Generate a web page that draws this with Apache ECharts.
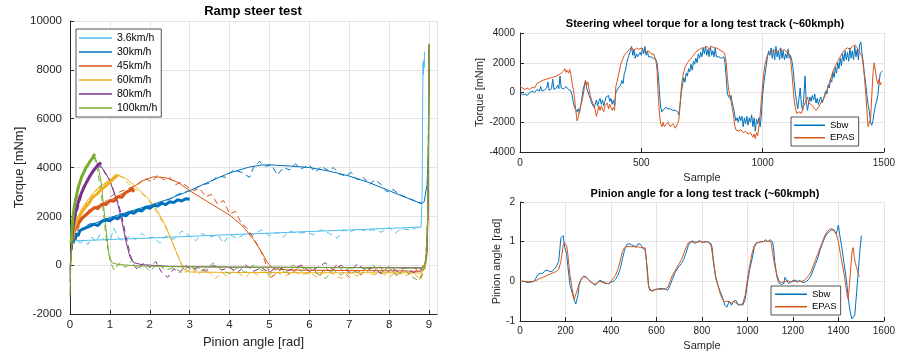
<!DOCTYPE html>
<html><head><meta charset="utf-8">
<script src="https://cdn.jsdelivr.net/npm/echarts@6/dist/echarts.min.js"></script>
<style>html,body{margin:0;padding:0;background:#fff}#c{width:898px;height:356px}</style>
</head><body><div id="c"></div>
<script>
// ---------- Left chart: Ramp steer test (pinion angle [rad], torque [mNm]) ----------
const speedNames = ['3.6km/h','30km/h','45km/h','60km/h','80km/h','100km/h'];
const leftXTicks = [0,1,2,3,4,5,6,7,8,9];
const leftYTicks = [-2000,0,2000,4000,6000,8000,10000];

// solid (model) curves
const s36 = [[0,-100],[0.02,300],[0.05,800],[0.1,1000],[0.5,1020],[1,1050],[2,1110],[3,1180],[4,1250],[5,1310],[6,1380],[7,1440],[8,1510],[8.8,1560],[8.83,3000],[8.84,6500],[8.85,8300],[8.86,7800],[8.87,8400],[8.88,8100],[8.89,8750]];
const s30 = [[0,-200],[0.02,300],[0.05,800],[0.1,1100],[0.3,1450],[0.6,1700],[1,1950],[1.5,2200],[2,2450],[2.5,2720],[3,3050],[3.5,3420],[4,3780],[4.5,4020],[4.8,4100],[5,4110],[5.5,4060],[6,4000],[6.5,3850],[7,3650],[7.5,3380],[8,3050],[8.5,2720],[8.8,2520],[8.88,2600],[8.95,3300],[8.99,5000],[9.0,8500]];
const s45 = [[0,-300],[0.02,200],[0.05,900],[0.1,1300],[0.3,1850],[0.6,2300],[1,2650],[1.5,3100],[1.8,3450],[2.1,3620],[2.4,3580],[2.7,3400],[3,3050],[3.3,2750],[3.6,2450],[4,2050],[4.3,1650],[4.6,1050],[4.8,550],[4.95,100],[5.1,-150],[5.5,-200],[6,-210],[7,-220],[8,-230],[8.8,-250],[8.9,-100],[8.95,500],[8.98,2500],[9.0,8800]];
const s60 = [[0,-400],[0.02,200],[0.05,1000],[0.1,1500],[0.3,2350],[0.6,3000],[0.9,3400],[1.2,3700],[1.4,3550],[1.7,3150],[2.0,2650],[2.2,2200],[2.4,1600],[2.6,800],[2.75,200],[2.85,-150],[3.0,-280],[4,-300],[5,-300],[6,-310],[7,-310],[8,-310],[8.8,-320],[8.9,-150],[8.95,400],[8.98,2500],[9.0,8900]];
const s80 = [[0,-700],[0.02,300],[0.05,1200],[0.1,1800],[0.3,3000],[0.5,3650],[0.7,4050],[0.8,4000],[0.9,3750],[1.0,3450],[1.1,3000],[1.2,2500],[1.3,1800],[1.4,1000],[1.5,350],[1.6,100],[1.8,20],[2.5,-50],[4,-80],[6,-90],[8,-100],[8.8,-110],[8.9,50],[8.95,600],[8.98,3000],[9.0,9000]];
const s100 = [[0,-1300],[0.02,200],[0.05,1500],[0.1,2300],[0.2,3200],[0.35,3900],[0.5,4300],[0.62,4450],[0.7,4100],[0.78,3400],[0.85,2300],[0.92,1200],[0.98,400],[1.05,100],[1.2,30],[1.6,-20],[2.5,-60],[4,-80],[6,-100],[8,-110],[8.8,-130],[8.9,50],[8.95,700],[8.98,3500],[9.0,9050]];

// dashed (noisy) curves
const d36 = [[0.05,900],[0.15,1100],[0.25,900],[0.35,1000],[0.45,850],[0.55,1150],[0.65,950],[0.75,1250],[0.85,1050],[1.0,1000],[1.1,1500],[1.2,1150],[1.35,950],[1.5,1200],[1.65,1050],[1.8,1300],[1.95,1100],[2.1,1150],[2.25,900],[2.4,1200],[2.6,1050],[2.8,1400],[3.0,1200],[3.15,1000],[3.3,1300],[3.5,1150],[3.7,1250],[3.85,900],[4.0,1250],[4.2,1100],[4.4,1300],[4.6,1250],[4.8,1450],[5.0,1200],[5.2,1350],[5.35,1150],[5.5,1400],[5.7,1300],[5.9,1350],[6.1,1250],[6.3,1450],[6.5,1300],[6.7,1100],[6.85,1450],[7.0,1350],[7.2,1500],[7.4,1400],[7.6,1450],[7.8,1350],[8.0,1550],[8.15,1300],[8.3,1500],[8.5,1450],[8.7,1550],[8.8,1550]];
const d30 = [[0.1,1000],[0.3,1500],[0.5,1700],[0.7,1650],[0.9,1900],[1.1,1950],[1.3,2000],[1.5,2250],[1.7,2150],[1.9,2450],[2.1,2400],[2.3,2600],[2.5,2700],[2.7,2900],[2.9,3000],[3.1,3100],[3.3,3300],[3.5,3350],[3.7,3650],[3.9,3600],[4.1,3900],[4.3,3800],[4.5,3600],[4.6,4000],[4.75,4250],[4.9,4050],[5.05,4100],[5.2,3700],[5.35,4000],[5.5,3900],[5.65,4150],[5.8,3950],[6.0,4100],[6.15,3800],[6.3,4050],[6.5,3850],[6.6,4000],[6.75,3750],[6.9,3650],[7.05,3800],[7.2,3500],[7.35,3600],[7.5,3300],[7.65,3500],[7.8,3300],[7.95,3000],[8.1,3100],[8.25,2900],[8.4,2800],[8.55,2700],[8.7,2600],[8.8,2550]];
const d45 = [[0.1,1000],[0.3,1900],[0.5,2300],[0.8,2500],[1.1,2900],[1.4,3100],[1.7,3300],[1.9,3550],[2.05,3400],[2.2,3700],[2.35,3500],[2.5,3600],[2.65,3300],[2.8,3400],[2.95,3200],[3.1,3050],[3.25,3150],[3.4,2800],[3.55,2900],[3.7,2500],[3.85,2650],[4.0,2100],[4.15,2200],[4.3,1700],[4.45,1500],[4.6,1100],[4.75,700],[4.85,300],[4.95,-100],[5.05,-500],[5.2,-300],[5.35,-100],[5.5,-400],[5.65,-200],[5.8,0],[5.95,-350],[6.1,-150],[6.25,-450],[6.4,-100],[6.55,-300],[6.7,50],[6.85,-250],[7.0,-500],[7.15,-200],[7.3,-400],[7.45,-100],[7.6,-300],[7.75,0],[7.9,-350],[8.05,-150],[8.2,-450],[8.35,-200],[8.5,-350],[8.65,-100],[8.8,-500],[8.92,200],[8.97,2000],[9.0,9100]];
const d60 = [[0.1,1200],[0.25,2000],[0.4,2500],[0.55,2800],[0.7,3150],[0.85,3300],[1.0,3450],[1.15,3750],[1.3,3600],[1.45,3350],[1.6,3150],[1.75,3000],[1.9,2800],[2.05,2500],[2.2,2100],[2.35,1700],[2.5,1200],[2.65,600],[2.8,0],[2.9,-300],[3.05,-100],[3.2,-400],[3.35,-200],[3.5,-300],[3.65,-550],[3.8,-300],[3.95,-450],[4.1,-200],[4.25,-350],[4.4,-500],[4.55,-250],[4.7,-400],[4.85,-200],[5.0,-500],[5.2,-300],[5.4,-450],[5.6,-250],[5.8,-400],[6.0,-300],[6.2,-500],[6.4,-250],[6.6,-350],[6.8,-550],[7.0,-300],[7.2,-450],[7.4,-200],[7.6,-400],[7.8,-300],[8.0,-500],[8.2,-250],[8.4,-450],[8.6,-300],[8.8,-600],[8.92,200],[8.97,2000],[9.0,9100]];
const d80 = [[0.05,600],[0.15,2000],[0.3,2900],[0.45,3500],[0.6,3900],[0.75,4150],[0.9,3700],[1.0,3500],[1.1,3000],[1.2,2600],[1.3,2000],[1.4,1200],[1.5,500],[1.6,0],[1.7,-200],[1.85,100],[2.0,-100],[2.15,150],[2.3,-300],[2.45,-500],[2.6,-150],[2.75,-300],[2.9,0],[3.05,-200],[3.2,-100],[3.4,-250],[3.6,0],[3.8,-200],[4.0,-100],[4.2,-300],[4.4,0],[4.6,-250],[4.8,-100],[5.0,-300],[5.2,-50],[5.4,-250],[5.6,-150],[5.8,0],[6.0,-250],[6.2,-100],[6.4,100],[6.6,-200],[6.8,0],[7.0,-300],[7.2,50],[7.4,-200],[7.6,-100],[7.8,-350],[8.0,-50],[8.2,-250],[8.4,-100],[8.6,-300],[8.8,-200],[8.92,200],[8.97,2000],[9.0,9100]];
const d100 = [[0.02,200],[0.1,2100],[0.2,3000],[0.3,3600],[0.4,4000],[0.5,4300],[0.6,4500],[0.7,3800],[0.8,2700],[0.9,1200],[1.0,200],[1.1,-200],[1.25,100],[1.4,-100],[1.55,200],[1.7,-100],[1.85,0],[2.0,-250],[2.2,50],[2.4,-200],[2.6,-100],[2.8,-300],[3.0,0],[3.2,-250],[3.4,-150],[3.6,100],[3.8,-200],[4.0,-350],[4.2,-100],[4.4,-300],[4.6,0],[4.8,-200],[5.0,-400],[5.2,-150],[5.4,-300],[5.6,0],[5.8,-250],[6.0,-100],[6.2,-350],[6.4,-550],[6.6,-200],[6.8,-400],[7.0,-100],[7.2,-300],[7.4,-150],[7.6,0],[7.8,-300],[8.0,-100],[8.2,-400],[8.4,-200],[8.6,-500],[8.75,-650],[8.85,-300],[8.92,200],[8.97,2000],[9.0,9100]];

// thick (measured) bands
const m30 = [[0.08,900],[0.1,1150],[0.13,1050],[0.16,1300],[0.2,1200],[0.25,1420],[0.3,1350],[0.35,1500],[0.4,1430],[0.5,1600],[0.55,1520],[0.6,1680],[0.7,1620],[0.8,1800],[0.85,1720],[0.9,1850],[1.0,1820],[1.1,1950],[1.2,1900],[1.3,2070],[1.4,2020],[1.5,2170],[1.6,2120],[1.7,2260],[1.8,2220],[1.9,2380],[2.0,2330],[2.1,2450],[2.2,2420],[2.3,2540],[2.4,2480],[2.5,2600],[2.6,2560],[2.7,2680],[2.8,2630],[2.9,2720],[3.0,2700]];
const m45 = [[0.07,1000],[0.1,1400],[0.13,1350],[0.17,1650],[0.2,1600],[0.25,1850],[0.3,1800],[0.35,2000],[0.4,1950],[0.5,2200],[0.55,2150],[0.6,2350],[0.7,2320],[0.8,2500],[0.9,2480],[1.0,2650],[1.1,2620],[1.2,2800],[1.3,2780],[1.4,2980],[1.5,3050],[1.55,3150],[1.6,3000]];
const m60 = [[0.07,1100],[0.1,1500],[0.13,1450],[0.17,1800],[0.2,1750],[0.25,2050],[0.3,2000],[0.35,2300],[0.4,2250],[0.5,2600],[0.55,2750],[0.6,2700],[0.7,2950],[0.75,3050],[0.8,3000],[0.9,3250],[1.0,3400],[1.05,3350],[1.1,3550],[1.15,3500],[1.2,3700]];
const m80 = [[0.05,1100],[0.08,1600],[0.1,1800],[0.13,2100],[0.17,2400],[0.2,2550],[0.25,2800],[0.3,3000],[0.35,3200],[0.4,3350],[0.45,3500],[0.5,3650],[0.55,3700],[0.6,3900],[0.65,3950],[0.7,4100],[0.75,4150],[0.78,4200]];
const m100 = [[0.03,900],[0.05,1500],[0.07,1900],[0.1,2300],[0.13,2600],[0.17,2900],[0.2,3150],[0.25,3400],[0.3,3650],[0.35,3800],[0.4,4000],[0.45,4100],[0.5,4250],[0.55,4350],[0.6,4500],[0.63,4550]];

// ---------- Right-top: steering wheel torque [mNm] vs sample ----------
const sbwTorque = [[0,0],[10,-150],[20,-100],[30,-200],[40,0],[50,100],[60,0],[70,200],[80,100],[85,400],[90,100],[100,150],[110,300],[115,700],[120,150],[130,250],[135,900],[140,200],[150,300],[155,500],[160,250],[165,1100],[170,300],[180,250],[190,400],[200,200],[210,100],[215,-200],[220,-700],[225,-1000],[230,-900],[235,-1300],[240,-1100],[245,-1400],[250,-900],[255,-400],[260,200],[265,500],[270,800],[275,300],[280,200],[285,-200],[290,-400],[295,-700],[300,-600],[305,-1000],[310,-800],[315,-500],[320,-900],[325,-600],[330,-400],[335,-800],[340,-500],[345,-900],[350,-600],[355,-300],[360,-400],[365,-200],[370,-600],[375,-400],[380,-800],[385,-500],[390,-900],[395,0],[400,100],[405,300],[410,200],[415,500],[420,800],[425,600],[430,1300],[435,1500],[440,2000],[445,2300],[450,2200],[455,2800],[460,3100],[465,2500],[470,2900],[475,2300],[480,2600],[485,2400],[490,2300],[495,2700],[500,2500],[505,3000],[510,2600],[515,3100],[520,2500],[525,2800],[530,2400],[540,2400],[550,2300],[560,2200],[565,2000],[570,1200],[575,0],[580,-1000],[585,-1300],[590,-1200],[600,-1000],[610,-1100],[620,-1100],[630,-1200],[640,-1200],[650,-1300],[655,-1500],[660,-800],[665,0],[670,500],[675,1000],[680,700],[685,1300],[690,1100],[695,1600],[700,1400],[705,1900],[710,1500],[715,2100],[720,1900],[725,2300],[730,2000],[735,2600],[740,2300],[745,2700],[750,2400],[755,3000],[760,2600],[765,3100],[770,2500],[775,2900],[780,2400],[785,3100],[790,2500],[795,2800],[800,2400],[805,3000],[810,2400],[820,2400],[830,2300],[840,2400],[845,2000],[850,1000],[855,-100],[860,0],[865,-400],[870,-200],[875,-700],[880,-1000],[885,-1500],[890,-1900],[895,-1700],[900,-2000],[905,-1600],[910,-1900],[915,-1600],[920,-2300],[925,-1700],[930,-2100],[935,-1600],[940,-2200],[945,-1700],[950,-2000],[955,-1500],[960,-2300],[965,-1700],[970,-2600],[975,-1800],[980,-2100],[985,-1700],[990,-2300],[995,-1500],[1000,-200],[1005,600],[1010,1200],[1015,1800],[1020,2400],[1025,2800],[1030,2500],[1035,3000],[1040,2300],[1045,2900],[1050,2200],[1055,3100],[1060,2400],[1065,2800],[1070,2200],[1075,3000],[1080,2300],[1085,2800],[1090,2200],[1095,2600],[1100,2300],[1105,2900],[1110,2300],[1115,2500],[1120,2200],[1125,1700],[1130,800],[1135,0],[1140,-600],[1145,-1100],[1150,-400],[1155,300],[1160,-800],[1165,-1200],[1170,-300],[1175,1100],[1180,-600],[1185,-1200],[1190,-700],[1195,-300],[1200,-600],[1205,-200],[1210,-500],[1215,-100],[1220,-700],[1225,-400],[1230,-800],[1235,-500],[1240,-300],[1245,-700],[1250,-500],[1255,-200],[1260,100],[1265,-100],[1270,500],[1275,300],[1280,900],[1285,700],[1290,1400],[1295,1000],[1300,1700],[1305,1300],[1310,2000],[1315,1600],[1320,2300],[1325,1800],[1330,2600],[1335,2100],[1340,2800],[1345,2200],[1350,2700],[1355,2100],[1360,3000],[1365,2300],[1370,2800],[1375,2200],[1380,3100],[1385,2400],[1390,2900],[1395,2200],[1400,3200],[1405,3400],[1410,2600],[1415,2000],[1420,1200],[1425,600],[1430,-200],[1435,-800],[1440,-1300],[1445,-2000],[1450,-2200],[1455,-1900],[1460,-1300],[1465,-900],[1470,-600],[1475,-200],[1480,600],[1485,1300],[1490,1400],[1495,1450]];
const epasTorque = [[0,400],[10,300],[20,200],[30,300],[40,200],[50,350],[60,300],[70,600],[80,700],[90,800],[100,850],[110,900],[120,950],[130,1000],[140,1050],[150,1100],[160,1200],[170,1300],[180,1450],[185,1600],[190,1350],[195,1500],[200,1300],[205,1550],[210,1200],[215,600],[220,200],[225,-400],[230,-1200],[235,-1900],[240,-1700],[245,-1300],[250,-900],[255,-600],[260,-200],[265,300],[270,800],[275,500],[280,700],[285,200],[290,-200],[295,-500],[300,-400],[305,-900],[310,-1200],[315,-1600],[320,-1300],[325,-900],[330,-1200],[335,-900],[340,-1100],[345,-1300],[350,-900],[355,-1000],[360,-700],[365,-1100],[370,-800],[375,-1000],[380,-1200],[385,-1000],[390,-1200],[395,400],[400,700],[405,1100],[410,1500],[415,1900],[420,2000],[425,2300],[430,2500],[440,2700],[450,2900],[460,3000],[470,2800],[480,3000],[490,2900],[500,3000],[510,2800],[520,2700],[530,2800],[540,2600],[550,2600],[555,2500],[560,2200],[565,1500],[570,-200],[575,-1500],[580,-2100],[585,-2300],[590,-2000],[595,-2300],[600,-2200],[610,-2000],[620,-2300],[630,-2100],[640,-2400],[650,-2100],[655,-1800],[660,-800],[665,300],[670,1000],[680,1700],[690,2000],[700,2200],[710,2400],[720,2600],[730,2800],[740,2900],[750,3000],[760,3000],[770,3100],[780,2900],[790,3100],[800,3000],[810,3000],[820,2900],[830,2800],[840,2700],[845,2500],[850,2000],[855,1000],[860,200],[870,-600],[880,-1500],[885,-2200],[890,-2500],[900,-2600],[910,-2500],[920,-2700],[930,-2600],[940,-2800],[950,-2700],[960,-3000],[965,-2800],[970,-3100],[975,-2700],[980,-2900],[985,-2300],[990,-1500],[995,-500],[1000,500],[1005,1300],[1010,1900],[1020,2500],[1030,2700],[1040,2800],[1050,2800],[1060,2700],[1070,2900],[1080,2800],[1090,2900],[1100,2700],[1110,2600],[1115,2300],[1120,1500],[1125,500],[1130,-500],[1135,-1000],[1140,-1400],[1145,-1500],[1150,-1300],[1160,-1400],[1170,-900],[1180,-500],[1185,-300],[1190,-700],[1200,-800],[1210,-1000],[1220,-1200],[1230,-1000],[1240,-700],[1250,-500],[1260,-100],[1270,400],[1280,900],[1290,1400],[1300,1800],[1310,2100],[1320,2400],[1330,2700],[1340,2900],[1350,3000],[1360,2900],[1370,3100],[1380,3200],[1390,3000],[1400,2700],[1410,2400],[1415,1800],[1420,1000],[1425,0],[1430,-1200],[1435,-2300],[1440,-2400],[1445,-1800],[1450,-300],[1455,1300],[1460,2000],[1465,1500],[1470,900],[1475,600],[1480,900],[1485,500],[1490,700]];

// ---------- Right-bottom: pinion angle [rad] vs sample ----------
const sbwAngle = [[0,0],[20,0],[30,-0.03],[50,-0.02],[60,0],[70,0.08],[80,0.18],[90,0.2],[100,0.2],[110,0.27],[120,0.28],[130,0.25],[140,0.25],[150,0.3],[160,0.38],[170,0.5],[175,0.8],[180,1.1],[185,1.12],[190,1.15],[193,1.0],[197,0.85],[200,0.9],[205,0.7],[210,0.4],[215,0.15],[220,-0.1],[230,-0.3],[240,-0.5],[245,-0.57],[250,-0.55],[255,-0.35],[260,-0.1],[270,0.08],[280,0.13],[290,0.12],[300,0.05],[310,0.0],[320,-0.05],[330,-0.1],[340,-0.05],[350,0.03],[360,0.0],[370,-0.02],[380,-0.05],[390,-0.06],[400,-0.02],[410,0.0],[420,0.05],[430,0.15],[440,0.3],[450,0.55],[460,0.8],[470,0.93],[480,0.95],[490,0.92],[500,0.9],[510,0.87],[520,0.95],[530,0.93],[540,0.83],[550,0.8],[555,0.75],[560,0.3],[565,-0.1],[570,-0.2],[580,-0.23],[600,-0.2],[620,-0.18],[640,-0.2],[650,-0.22],[660,-0.1],[670,0.05],[680,0.2],[690,0.3],[700,0.38],[710,0.45],[720,0.55],[730,0.72],[740,0.9],[750,1.0],[760,1.02],[770,0.95],[780,1.0],[790,1.03],[800,0.98],[810,1.0],[820,1.0],[830,0.98],[840,0.95],[845,0.85],[850,0.5],[860,0.1],[870,-0.1],[880,-0.25],[890,-0.4],[900,-0.6],[910,-0.65],[920,-0.5],[925,-0.45],[930,-0.6],[940,-0.5],[950,-0.48],[960,-0.6],[970,-0.58],[980,-0.6],[990,-0.45],[1000,-0.05],[1010,0.3],[1020,0.55],[1030,0.85],[1040,0.97],[1050,0.98],[1060,1.0],[1070,1.0],[1080,1.05],[1090,1.0],[1100,1.05],[1105,1.06],[1110,1.0],[1115,0.85],[1120,0.5],[1130,0.1],[1140,-0.05],[1150,-0.08],[1160,-0.05],[1165,0.1],[1170,0.05],[1180,-0.05],[1190,-0.02],[1200,0.02],[1210,0.03],[1220,0.0],[1230,0.02],[1240,-0.02],[1250,-0.03],[1260,0.0],[1270,0.05],[1280,0.15],[1290,0.3],[1300,0.45],[1310,0.6],[1320,0.8],[1330,0.95],[1340,1.1],[1350,1.2],[1360,1.25],[1370,1.3],[1380,1.28],[1390,1.2],[1395,1.3],[1400,1.42],[1405,1.2],[1414,0.9],[1425,0.45],[1436,0.0],[1445,-0.5],[1453,-0.8],[1460,-0.95],[1466,-0.98],[1472,-0.85],[1480,-0.3],[1488,0.3],[1495,0.8],[1501,1.15]];
const epasAngle = [[0,0],[20,0],[40,-0.01],[60,0],[70,0.02],[80,0.05],[100,0.1],[120,0.15],[140,0.2],[160,0.25],[170,0.3],[180,0.5],[185,0.7],[190,0.9],[195,0.98],[200,1.0],[205,0.9],[210,0.7],[215,0.4],[220,0.15],[230,-0.2],[238,-0.45],[245,-0.4],[250,-0.25],[260,-0.05],[270,0.05],[280,0.12],[290,0.1],[300,0.05],[310,-0.02],[320,-0.05],[330,-0.07],[340,-0.03],[350,0.0],[360,-0.02],[370,-0.04],[380,-0.06],[390,-0.05],[400,0.0],[410,0.08],[420,0.15],[430,0.3],[440,0.5],[450,0.75],[460,0.85],[470,0.88],[480,0.88],[490,0.87],[500,0.88],[510,0.86],[520,0.87],[530,0.85],[540,0.85],[550,0.84],[555,0.6],[560,0.2],[565,-0.1],[570,-0.22],[580,-0.25],[600,-0.2],[620,-0.2],[640,-0.18],[650,-0.15],[660,0.0],[670,0.15],[680,0.25],[690,0.35],[700,0.45],[710,0.55],[720,0.7],[730,0.85],[740,0.97],[750,1.0],[760,0.98],[770,1.0],[780,0.98],[790,1.0],[800,1.0],[810,0.98],[820,1.0],[830,0.98],[840,0.9],[850,0.55],[860,0.15],[870,-0.1],[880,-0.3],[890,-0.45],[900,-0.52],[910,-0.5],[920,-0.52],[930,-0.55],[940,-0.5],[950,-0.55],[960,-0.58],[970,-0.6],[980,-0.55],[990,-0.35],[1000,0.05],[1010,0.4],[1020,0.7],[1030,0.9],[1040,0.97],[1050,0.98],[1060,1.0],[1070,1.0],[1080,1.02],[1090,1.0],[1100,1.02],[1105,0.95],[1110,0.75],[1120,0.4],[1130,0.15],[1140,0.0],[1150,-0.03],[1160,-0.02],[1170,0.0],[1180,0.02],[1190,-0.02],[1200,0.0],[1210,0.0],[1220,-0.02],[1230,0.0],[1240,0.0],[1250,0.03],[1260,0.08],[1270,0.15],[1280,0.25],[1290,0.4],[1300,0.55],[1310,0.7],[1320,0.85],[1330,1.0],[1340,1.15],[1350,1.25],[1360,1.3],[1370,1.33],[1380,1.3],[1390,1.2],[1400,1.0],[1410,0.65],[1420,0.35],[1430,0.0],[1437,-0.3],[1443,-0.45],[1450,0.0],[1455,0.4],[1460,0.75],[1465,0.85],[1470,0.6],[1475,0.45],[1480,0.35],[1485,0.25],[1490,0.15],[1493,0.12]];

// ---------- rendering ----------
const FONT = 'Liberation Sans';
const INK = '#262626';
const GRID = '#e3e3e3';
const col = {c36:'#4DBEEE', c30:'#0072BD', c45:'#D95319', c60:'#EDB120', c80:'#7E2F8E', c100:'#77AC30'};
const plain = v => String(v);

function xAxisOf(gi, min, max, interval, name, nameGap, fs, nfs, margin, hideMax) {
  return {type:'value', gridIndex:gi, min, max, interval, name, nameLocation:'middle', nameGap,
    nameTextStyle:{color:INK, fontSize:nfs, fontFamily:FONT},
    axisLine:{show:true, onZero:false, lineStyle:{color:INK, width:1}},
    axisTick:{show:true, inside:true, length:4, lineStyle:{color:INK}},
    axisLabel:{color:INK, fontSize:fs, fontFamily:FONT, margin, formatter:plain, showMaxLabel: !hideMax, showMinLabel:true},
    splitLine:{show:true, lineStyle:{color:GRID, width:1}}};
}
function yAxisOf(gi, min, max, interval, name, nameGap, fs, nfs, margin) {
  return {type:'value', gridIndex:gi, min, max, interval, name, nameLocation:'middle', nameGap, nameRotate:90,
    nameTextStyle:{color:INK, fontSize:nfs, fontFamily:FONT},
    axisLine:{show:true, onZero:false, lineStyle:{color:INK, width:1}},
    axisTick:{show:true, inside:true, length:4, lineStyle:{color:INK}},
    axisLabel:{color:INK, fontSize:fs, fontFamily:FONT, margin, formatter:plain},
    splitLine:{show:true, lineStyle:{color:GRID, width:1}}};
}
function line(name, data, color, width, gi, dashed, z) {
  return {type:'line', name, data, xAxisIndex:gi, yAxisIndex:gi, symbol:'none', showSymbol:false,
    animation:false, silent:true, z: z || 2,
    lineStyle:{color, width, type: dashed ? [6,4] : 'solid'}, itemStyle:{color}};
}

const leftSets = [
  [speedNames[0], s36, d36, null, col.c36],
  [speedNames[1], s30, d30, m30, col.c30],
  [speedNames[2], s45, d45, m45, col.c45],
  [speedNames[3], s60, d60, m60, col.c60],
  [speedNames[4], s80, d80, m80, col.c80],
  [speedNames[5], s100, d100, m100, col.c100]
];
const series = [];
leftSets.forEach(([nm, s, d, m, c]) => {
  series.push(line(nm, s, c, 1, 0, false, 2));
  series.push(line(nm + ' dashed', d, c, 1, 0, true, 2));
  if (m) series.push(line(nm + ' measured', m, c, 3, 0, false, 3));
});
series.push(line('Sbw', sbwTorque, col.c30, 1, 1));
series.push(line('EPAS', epasTorque, col.c45, 1, 1));
series.push(line('Sbw', sbwAngle, col.c30, 1, 2));
series.push(line('EPAS', epasAngle, col.c45, 1, 2));

function legendOf(names, left, top, itemWidth, fs, lh, pad) {
  return {data:names.map(n => ({name:n, icon:'rect'})), orient:'vertical', left, top, padding:pad,
    itemWidth, itemHeight:1.5, itemGap:0,
    selectedMode:false, backgroundColor:'#fff', borderColor:INK, borderWidth:0.8, borderRadius:0,
    textStyle:{fontSize:fs, lineHeight:lh, fontFamily:FONT, color:'#000'}};
}

const option = {
  animation:false,
  backgroundColor:'#fff',
  grid:[
    {left:70, top:21, width:367, height:293},
    {left:520, top:33, width:369, height:119},
    {left:520, top:202, width:368, height:119}
  ],
  xAxis:[
    xAxisOf(0, leftXTicks[0], 9.2, 1, 'Pinion angle [rad]', 20, 11.5, 13, 5, true),
    xAxisOf(1, 0, 1500, 500, 'Sample', 20, 10, 11, 6, false),
    xAxisOf(2, 0, 1600, 200, 'Sample', 19, 10, 11, 5, false)
  ],
  yAxis:[
    yAxisOf(0, leftYTicks[0], leftYTicks[leftYTicks.length-1], 2000, 'Torque [mNm]', 44, 11.5, 13, 8),
    yAxisOf(1, -4000, 4000, 2000, 'Torque [mNm]', 33, 10, 11, 5),
    yAxisOf(2, -1, 2, 1, 'Pinion angle [rad]', 15, 10, 11, 5)
  ],
  legend:[
    legendOf(speedNames, 76, 29, 33, 10.5, 14, [2,4,2,3]),
    legendOf(['Sbw','EPAS'], 791, 117, 31, 9.5, 12.5, [2,4,2,3]),
    legendOf(['Sbw','EPAS'], 771, 286, 32, 9.5, 12.5, [2,4,2,4])
  ],
  graphic:[
    {type:'text', x:253, y:11, z:10, style:{text:'Ramp steer test', font:'bold 13px "Liberation Sans"', fill:'#000', align:'center', verticalAlign:'middle'}},
    {type:'text', x:705, y:24, z:10, style:{text:'Steering wheel torque for a long test track (~60kmph)', font:'bold 11px "Liberation Sans"', fill:'#000', align:'center', verticalAlign:'middle'}},
    {type:'text', x:705, y:194, z:10, style:{text:'Pinion angle for a long test track (~60kmph)', font:'bold 11px "Liberation Sans"', fill:'#000', align:'center', verticalAlign:'middle'}}
  ],
  series
};
const chart = echarts.init(document.getElementById('c'), null, {renderer:'canvas'});
chart.setOption(option);
</script>
</body></html>
